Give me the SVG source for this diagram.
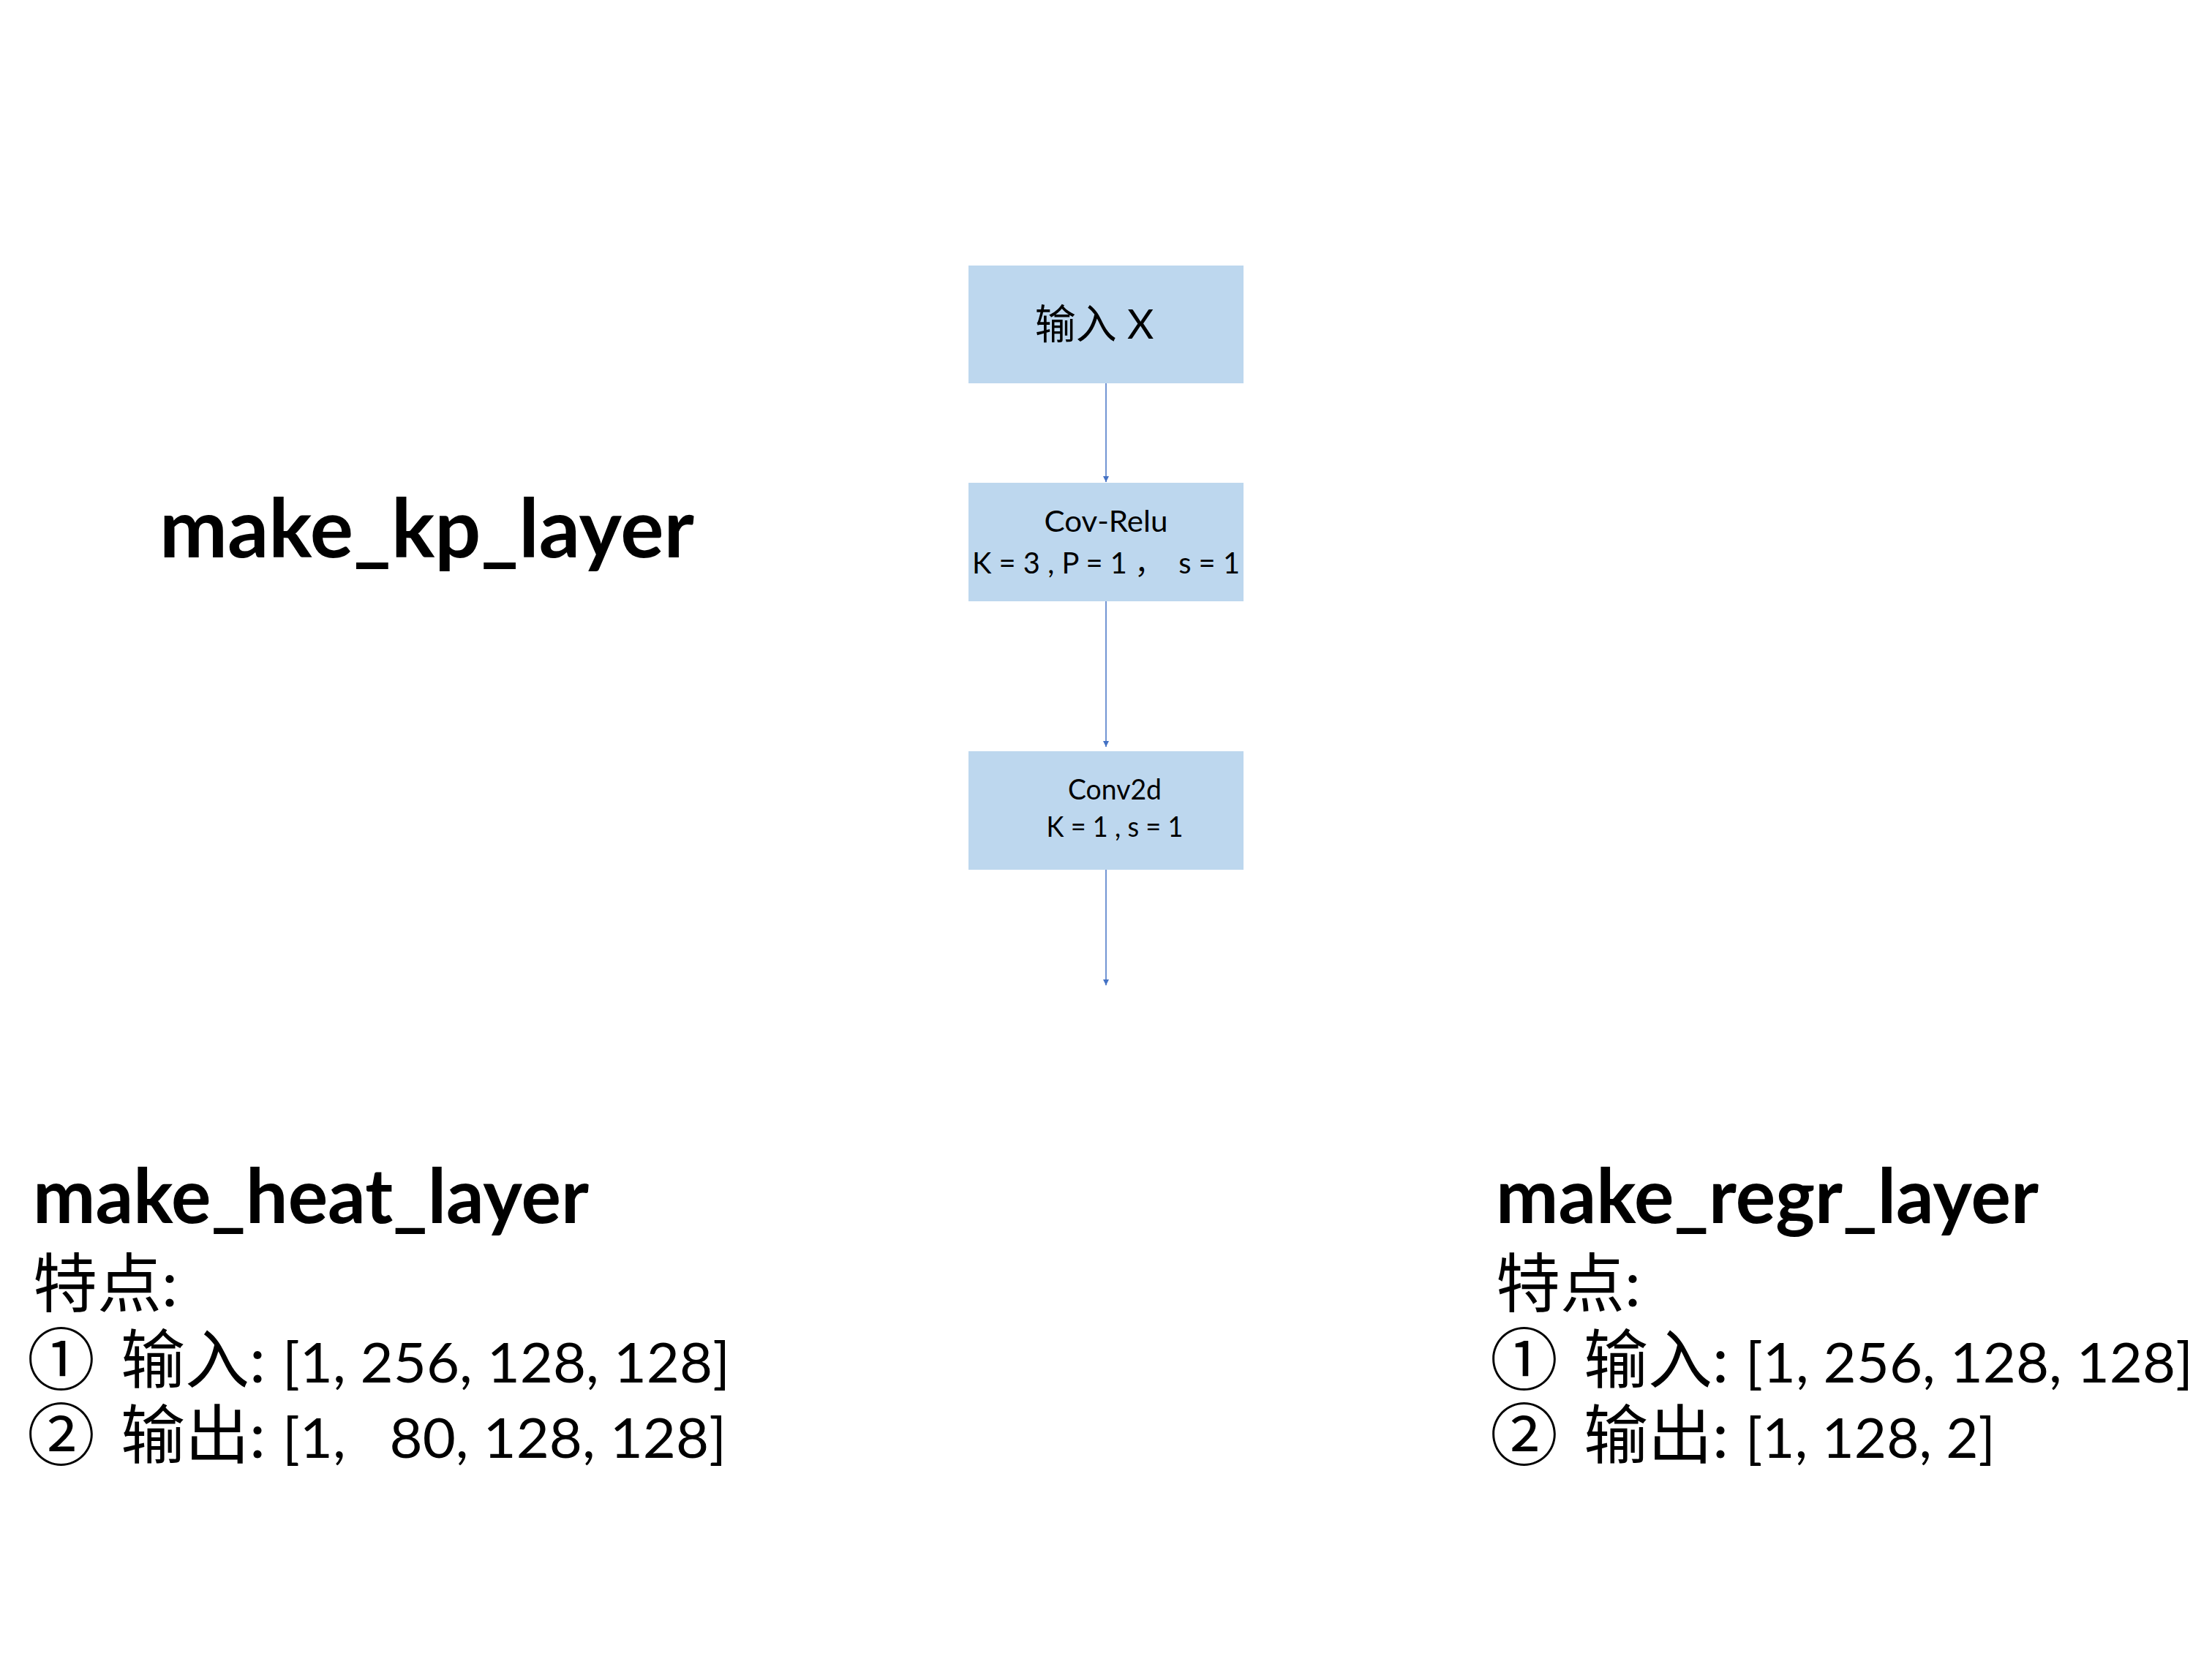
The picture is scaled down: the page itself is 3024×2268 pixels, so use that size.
<svg xmlns="http://www.w3.org/2000/svg" width="3024" height="2268" viewBox="0 0 3024 2268">
<style>
.box{fill:#BDD7EE;}
.lat{font-family:Lato,"Noto Sans CJK SC",sans-serif;fill:#000;}
.cjk{font-family:"Noto Sans CJK SC",sans-serif;fill:#000;}
.title{font-family:Lato,"Noto Sans CJK SC",sans-serif;font-weight:bold;fill:#000;}
.conn{stroke:#4472C4;stroke-width:1.5;fill:none;marker-end:url(#arr);}
</style>
<defs>
<marker id="arr" markerUnits="userSpaceOnUse" markerWidth="9" markerHeight="9" refX="8" refY="4" orient="auto">
<path d="M0,0 L8,4 L0,8 z" fill="#4472C4"/>
</marker>
</defs>
<rect width="3024" height="2268" fill="#fff"/>
<text id="kp-title" class="title" x="218" y="762" font-size="112" textLength="731" lengthAdjust="spacingAndGlyphs">make_kp_layer</text>
<g id="node-input">
<rect class="box" x="1324" y="363" width="376" height="161"/>
<text class="lat" x="1496" y="463" font-size="56" text-anchor="middle">输入 X</text>
</g>
<g id="node-covrelu">
<rect class="box" x="1324" y="660" width="376" height="162"/>
<text class="lat" x="1512" y="727" font-size="40" text-anchor="middle" textLength="169" lengthAdjust="spacingAndGlyphs">Cov-Relu</text>
<text class="lat" x="1512" y="784" font-size="40" text-anchor="middle" textLength="366" lengthAdjust="spacingAndGlyphs" xml:space="preserve">K = 3 , P = 1 ，  s = 1</text>
</g>
<g id="node-conv2d">
<rect class="box" x="1324" y="1027" width="376" height="162"/>
<text class="lat" x="1524" y="1093" font-size="38" text-anchor="middle" textLength="128" lengthAdjust="spacingAndGlyphs">Conv2d</text>
<text class="lat" x="1524" y="1144" font-size="38" text-anchor="middle" textLength="187" lengthAdjust="spacingAndGlyphs">K = 1 , s = 1</text>
</g>
<g id="connectors">
<line class="conn" x1="1512" y1="524" x2="1512" y2="659"/>
<line class="conn" x1="1512" y1="822" x2="1512" y2="1021"/>
<line class="conn" x1="1512" y1="1189" x2="1512" y2="1347"/>
</g>
<g id="heat-layer">
<text class="title" x="45" y="1672" font-size="103" textLength="760" lengthAdjust="spacingAndGlyphs">make_heat_layer</text>
<text class="lat" x="45" y="1786" font-size="88">特点:</text>
<text class="cjk" x="37" y="1893" font-size="93">①</text>
<text class="lat" x="165" y="1890" font-size="88">输入:</text>
<text class="lat" x="386" y="1890" font-size="76" textLength="612" lengthAdjust="spacingAndGlyphs">[1, 256, 128, 128]</text>
<text class="cjk" x="37" y="1996" font-size="93">②</text>
<text class="lat" x="165" y="1993" font-size="88">输出:</text>
<text class="lat" x="386" y="1993" font-size="76" textLength="607" lengthAdjust="spacingAndGlyphs" xml:space="preserve">[1,   80, 128, 128]</text>
</g>
<g id="regr-layer">
<text class="title" x="2045" y="1672" font-size="103" textLength="742" lengthAdjust="spacingAndGlyphs">make_regr_layer</text>
<text class="lat" x="2045" y="1786" font-size="88">特点:</text>
<text class="cjk" x="2037" y="1893" font-size="93">①</text>
<text class="lat" x="2165" y="1890" font-size="88">输入:</text>
<text class="lat" x="2386" y="1890" font-size="76" textLength="612" lengthAdjust="spacingAndGlyphs">[1, 256, 128, 128]</text>
<text class="cjk" x="2037" y="1996" font-size="93">②</text>
<text class="lat" x="2165" y="1993" font-size="88">输出:</text>
<text class="lat" x="2386" y="1993" font-size="76" textLength="342" lengthAdjust="spacingAndGlyphs">[1, 128, 2]</text>
</g>
</svg>
